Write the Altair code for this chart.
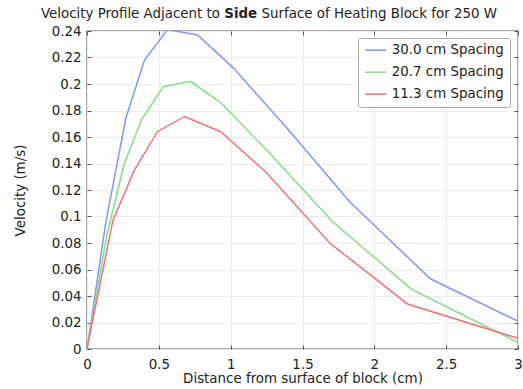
import altair as alt
import pandas as pd

# ---- data ----
series_names = ["30.0 cm Spacing", "20.7 cm Spacing", "11.3 cm Spacing"]
series_colors = ["#8396ff", "#86dc86", "#f07474"]

x_30 = [0, 0.13, 0.27, 0.40, 0.56, 0.77, 1.02, 1.39, 1.83, 2.39, 3.0]
v_30 = [0, 0.095, 0.174, 0.218, 0.241, 0.237, 0.212, 0.167, 0.111, 0.053, 0.021]

x_20 = [0, 0.14, 0.26, 0.38, 0.53, 0.72, 0.93, 1.27, 1.71, 2.26, 3.0]
v_20 = [0, 0.087, 0.140, 0.173, 0.198, 0.202, 0.186, 0.148, 0.096, 0.045, 0.005]

x_11 = [0, 0.18, 0.33, 0.49, 0.68, 0.93, 1.25, 1.69, 2.23, 3.0]
v_11 = [0, 0.097, 0.135, 0.164, 0.1755, 0.164, 0.133, 0.080, 0.034, 0.008]

x_ticks = [0, 0.5, 1, 1.5, 2, 2.5, 3]
y_ticks = [0, 0.02, 0.04, 0.06, 0.08, 0.1, 0.12, 0.14, 0.16, 0.18, 0.2, 0.22, 0.24]

title_parts = ["Velocity Profile Adjacent to", "Side", "Surface of Heating Block for 250 W"]
x_title = "Distance from surface of block (cm)"
y_title = "Velocity (m/s)"

rows = []
for name, xs, vs in zip(series_names, [x_30, x_20, x_11], [v_30, v_20, v_11]):
    for i, (xv, vv) in enumerate(zip(xs, vs)):
        rows.append({"series": name, "x": xv, "v": vv, "order": i})
df = pd.DataFrame(rows)

FONT = "DejaVu Sans"
TXT = "#222222"
FS = 13.4
W, H = 431, 318

xscale = alt.Scale(domain=[0, 3], nice=False, zero=False)
yscale = alt.Scale(domain=[0, 0.24], nice=False, zero=False)

lines = alt.Chart(df).mark_line(strokeWidth=1.5, clip=True).encode(
    x=alt.X("x:Q", scale=xscale,
            axis=alt.Axis(values=x_ticks, format="~g", title=x_title, offset=-4, tickSize=4,
                          domain=False, labelPadding=8.5, grid=True, gridColor="#ececec",
                          labelFontSize=FS, titleFontSize=FS, titleFontWeight="normal",
                          labelColor=TXT, titleColor=TXT, tickColor="#555555",
                          titlePadding=1, labelFlush=False, labelFont=FONT, titleFont=FONT)),
    y=alt.Y("v:Q", scale=yscale,
            axis=alt.Axis(values=y_ticks, format="~g", title=y_title, offset=-4, tickSize=4,
                          domain=False, labelPadding=6, grid=True, gridColor="#ececec",
                          labelFontSize=FS, titleFontSize=FS, titleFontWeight="normal",
                          labelColor=TXT, titleColor=TXT, tickColor="#555555",
                          titlePadding=24, labelFlush=False, labelFont=FONT, titleFont=FONT)),
    color=alt.Color("series:N",
                    scale=alt.Scale(domain=series_names, range=series_colors),
                    legend=alt.Legend(orient="none", legendX=271, legendY=7, title=None,
                                      strokeColor="#aaaaaa", fillColor="white", padding=5.5,
                                      symbolType="M-2.5,0H8", symbolSize=16, symbolStrokeWidth=1.5,
                                      labelFontSize=FS, labelFont=FONT, labelColor=TXT,
                                      labelOffset=14.8, rowPadding=7, cornerRadius=2)),
    order="order:Q",
)

frame_axes = alt.Chart(df).mark_point(opacity=0).encode(
    x=alt.X("x:Q", scale=xscale,
            axis=alt.Axis(orient="top", values=x_ticks, labels=False, title=None, offset=-4,
                          tickSize=4, domain=False, grid=False, tickColor="#555555")),
    y=alt.Y("v:Q", scale=yscale,
            axis=alt.Axis(orient="right", values=y_ticks, labels=False, title=None, offset=-4,
                          tickSize=4, domain=False, grid=False, tickColor="#555555")),
)

tdf = pd.DataFrame({"t": [0]})
TY = -17
t1 = alt.Chart(tdf).mark_text(align="right", baseline="middle", fontSize=FS, font=FONT,
                              color=TXT, text=title_parts[0]).encode(
    x=alt.value(133), y=alt.value(TY))
t2 = alt.Chart(tdf).mark_text(align="left", baseline="middle", fontSize=FS, font=FONT,
                              fontWeight="bold", color=TXT, text=title_parts[1]).encode(
    x=alt.value(137.3), y=alt.value(TY))
t3 = alt.Chart(tdf).mark_text(align="left", baseline="middle", fontSize=FS, font=FONT,
                              color=TXT, text=title_parts[2]).encode(
    x=alt.value(174.6), y=alt.value(TY))

chart = alt.layer(lines, frame_axes, t1, t2, t3).resolve_scale(
    x="independent", y="independent"
).properties(
    width=W, height=H, autosize=alt.AutoSizeParams(type="none"),
    padding={"left": 87, "top": 31, "right": 5, "bottom": 40},
    background="white",
).configure_view(stroke="#8c8c8c", strokeWidth=1.5)

chart.save("out.html", embed_options={"renderer": "svg", "actions": False})
